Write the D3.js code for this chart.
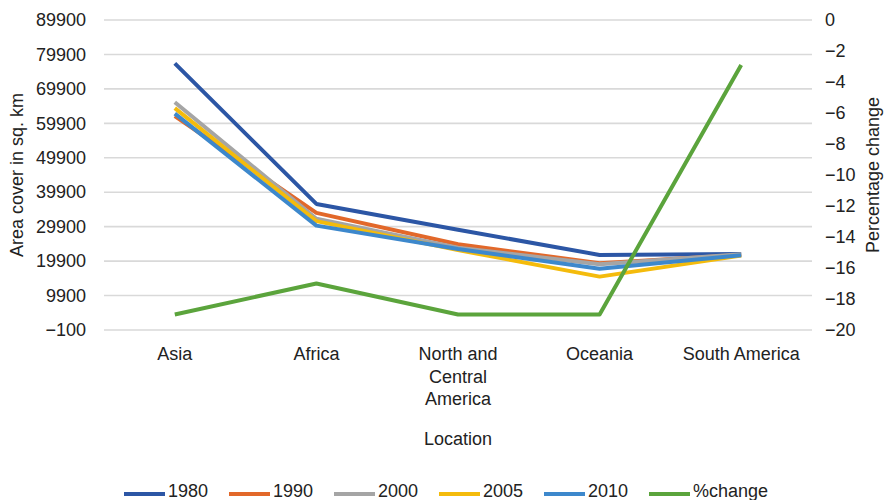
<!DOCTYPE html>
<html>
<head>
<meta charset="utf-8">
<script src="https://cdn.jsdelivr.net/npm/d3@7"></script>
<style>
  html, body { margin: 0; padding: 0; background: #fff; }
  svg { display: block; font-family: "Liberation Sans", Arial, sans-serif; }
</style>
</head>
<body>
<svg id="chart" width="884" height="500"></svg>
<script>
// Forest area cover by region (sq. km) and percentage change
const categories = ["Asia", "Africa", "North and Central America", "Oceania", "South America"];
const area1980 = [77300, 36500, 29000, 21700, 22000];
const area1990 = [62000, 33900, 24800, 19300, 21700];
const area2000 = [66000, 32200, 23800, 19000, 21900];
const area2005 = [64300, 31500, 23100, 15400, 21500];
const area2010 = [62700, 30200, 23400, 17700, 21600];
const pctChange = [-19.0, -17.0, -19.0, -19.0, -2.9];

const leftTicks = [-100, 9900, 19900, 29900, 39900, 49900, 59900, 69900, 79900, 89900];
const rightTicks = [0, -2, -4, -6, -8, -10, -12, -14, -16, -18, -20];

const seriesNames = ["1980", "1990", "2000", "2005", "2010", "%change"];
const seriesColors = ["#2c56a5", "#e2682a", "#a5a5a5", "#f4bb0c", "#3d88cc", "#5ba43c"];

const svg = d3.select("#chart");
const plotLeft = 104, plotRight = 812, plotTop = 20, plotBottom = 330;
const fs = 18;

const x = d3.scalePoint().domain(categories).range([plotLeft, plotRight]).padding(0.5);
const yL = d3.scaleLinear().domain([-100, 89900]).range([plotBottom, plotTop]);
const yR = d3.scaleLinear().domain([-20, 0]).range([plotBottom, plotTop]);

const fmt = d => d < 0 ? "\u2212" + Math.abs(d) : String(d);

// gridlines
svg.append("g")
  .selectAll("line")
  .data(leftTicks)
  .join("line")
  .attr("x1", plotLeft).attr("x2", plotRight)
  .attr("y1", d => yL(d)).attr("y2", d => yL(d))
  .attr("stroke", "#d9d9d9").attr("stroke-width", 1.6);

// left axis
const axL = svg.append("g")
  .attr("transform", `translate(${plotLeft - 18},0)`)
  .call(d3.axisLeft(yL).tickValues(leftTicks).tickSize(0).tickPadding(0).tickFormat(fmt));
axL.select(".domain").remove();
axL.selectAll("text").attr("font-size", fs).attr("fill", "#222")
  .attr("font-family", "Liberation Sans, Arial, sans-serif");

// right axis
const axR = svg.append("g")
  .attr("transform", `translate(${plotRight + 13},0)`)
  .call(d3.axisRight(yR).tickValues(rightTicks).tickSize(0).tickPadding(0).tickFormat(fmt));
axR.select(".domain").remove();
axR.selectAll("text").attr("font-size", fs).attr("fill", "#222")
  .attr("font-family", "Liberation Sans, Arial, sans-serif");

// axis titles
svg.append("text")
  .attr("transform", `translate(23,${(plotTop + plotBottom) / 2}) rotate(-90)`)
  .attr("text-anchor", "middle").attr("font-size", fs).attr("fill", "#222")
  .text("Area cover in sq. km");
svg.append("text")
  .attr("transform", `translate(879,${(plotTop + plotBottom) / 2}) rotate(-90)`)
  .attr("text-anchor", "middle").attr("font-size", fs).attr("fill", "#222")
  .text("Percentage change");

// category labels, wrapped to fit the band
const catG = svg.append("g");
categories.forEach(c => {
  const t = catG.append("text")
    .attr("x", x(c)).attr("y", 360)
    .attr("text-anchor", "middle").attr("font-size", fs).attr("fill", "#222");
  const words = c.split(" ");
  const lines = [];
  let cur = [];
  const probe = catG.append("text").attr("font-size", fs);
  words.forEach(w => {
    probe.text(cur.concat([w]).join(" "));
    if (cur.length && probe.node().getComputedTextLength() > 124) {
      lines.push(cur.join(" "));
      cur = [w];
    } else {
      cur.push(w);
    }
  });
  lines.push(cur.join(" "));
  probe.remove();
  lines.forEach((ln, i) => {
    t.append("tspan").attr("x", x(c)).attr("dy", i === 0 ? 0 : 22.5).text(ln);
  });
});

svg.append("text")
  .attr("x", (plotLeft + plotRight) / 2).attr("y", 445)
  .attr("text-anchor", "middle").attr("font-size", fs).attr("fill", "#222")
  .text("Location");

// series lines
const areaSeries = [area1980, area1990, area2000, area2005, area2010];
const lineL = d3.line().x((d, i) => x(categories[i])).y(d => yL(d));
const lineR = d3.line().x((d, i) => x(categories[i])).y(d => yR(d));

areaSeries.forEach((vals, k) => {
  svg.append("path")
    .datum(vals)
    .attr("d", lineL)
    .attr("fill", "none")
    .attr("stroke", seriesColors[k])
    .attr("stroke-width", 4)
    .attr("stroke-linejoin", "round");
});
svg.append("path")
  .datum(pctChange)
  .attr("d", lineR)
  .attr("fill", "none")
  .attr("stroke", seriesColors[5])
  .attr("stroke-width", 4)
  .attr("stroke-linejoin", "round");

// legend
const legendX = [124, 229, 334, 439, 544, 649];
const leg = svg.append("g");
seriesNames.forEach((name, i) => {
  leg.append("line")
    .attr("x1", legendX[i]).attr("x2", legendX[i] + 41)
    .attr("y1", 494).attr("y2", 494)
    .attr("stroke", seriesColors[i]).attr("stroke-width", 4);
  leg.append("text")
    .attr("x", legendX[i] + 44).attr("y", 497)
    .attr("font-size", fs).attr("fill", "#222")
    .text(name);
});
</script>
</body>
</html>
